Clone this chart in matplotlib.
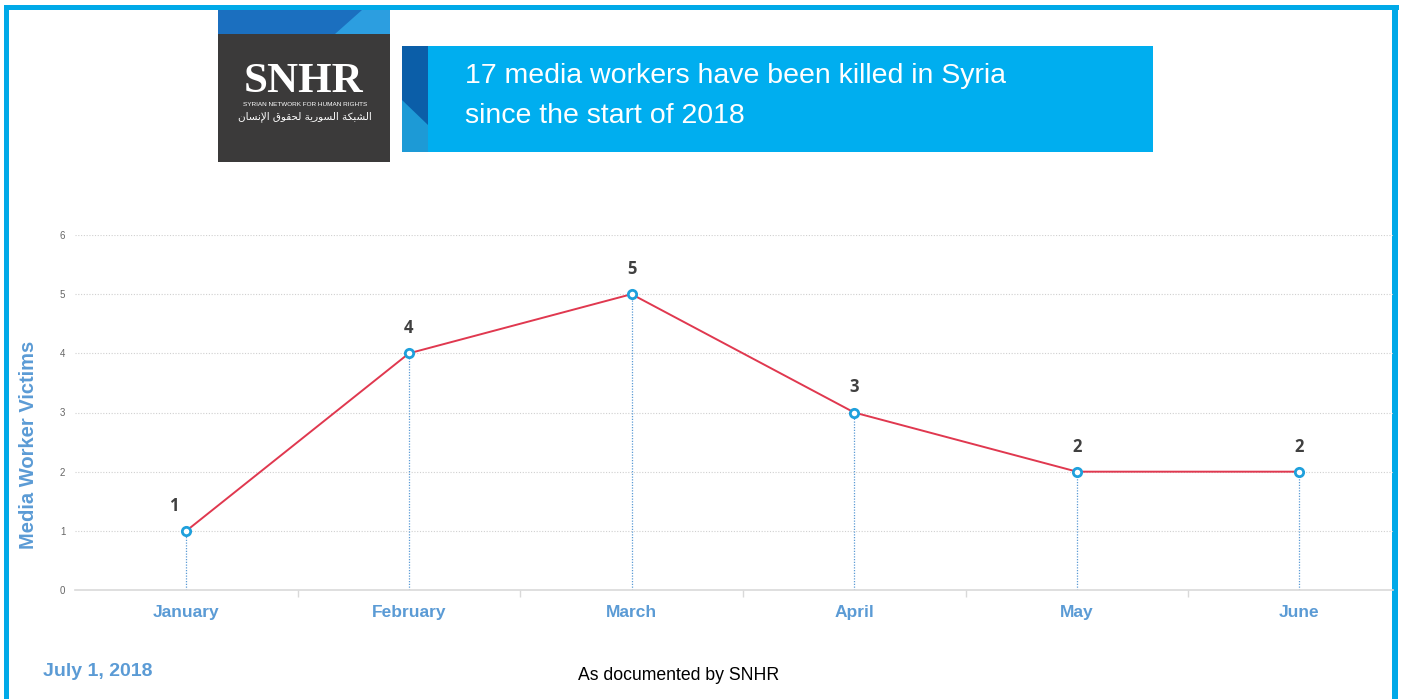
import matplotlib.pyplot as plt
from matplotlib.patches import Rectangle, Polygon

plt.rcParams['font.family'] = ['Liberation Sans', 'DejaVu Sans']

months = ['January', 'February', 'March', 'April', 'May', 'June']
victims = [1, 4, 5, 3, 2, 2]
y_ticks = [0, 1, 2, 3, 4, 5, 6]

title_lines = ['17 media workers have been killed in Syria', 'since the start of 2018']
logo_name = 'SNHR'
logo_sub = 'SYRIAN NETWORK FOR HUMAN RIGHTS'
# الشبكة السورية لحقوق الإنسان, written in shaped presentation forms (logical order)
logo_arabic_logical = ('\uFE8D\uFEDF\uFEB8\uFE92\uFEDC\uFE94 '
                       '\uFE8D\uFEDF\uFEB4\uFEEE\uFEAD\uFEF3\uFE94 '
                       '\uFEDF\uFEA4\uFED8\uFEEE\uFED5 '
                       '\uFE8D\uFEF9\uFEE7\uFEB4\uFE8E\uFEE5')
logo_arabic = logo_arabic_logical[::-1]
date_text = 'July 1, 2018'
source_text = 'As documented by SNHR'

BLUE = '#00a9e8'
LABEL_BLUE = '#5b9bd5'
RED = '#e0384f'
MARK = '#1fa0dc'

W, H = 1401, 699
fig = plt.figure(figsize=(W / 100, H / 100), dpi=100)

# background layer in pixel coordinates for frame, logo and banner
bg = fig.add_axes([0, 0, 1, 1])
bg.set_xlim(0, W)
bg.set_ylim(H, 0)
bg.axis('off')

# outer frame (top, left, right)
bg.add_patch(Rectangle((4, 5), 1395, 5, color=BLUE, lw=0))
bg.add_patch(Rectangle((4, 5), 5, 700, color=BLUE, lw=0))
bg.add_patch(Rectangle((1392, 5), 6, 700, color=BLUE, lw=0))

# logo block
bg.add_patch(Rectangle((218, 10), 172, 152, color='#3b3a3a', lw=0))
bg.add_patch(Rectangle((218, 10), 172, 24, color='#1b6fbf', lw=0))
bg.add_patch(Polygon([(335, 34), (362, 10), (390, 10), (390, 34)], closed=True,
                     color='#2c9ee0', lw=0))
bg.text(304, 82, logo_name, color='white', fontsize=31, family='Liberation Serif',
        fontweight='bold', ha='center', va='center')
bg.text(305, 104, logo_sub, color='white', fontsize=4.6, ha='center', va='center')
bg.text(305, 117, logo_arabic, color='white', fontsize=7.5, family='DejaVu Sans',
        ha='center', va='center')

# title banner
bg.add_patch(Rectangle((402, 46), 751, 106, color='#00aeef', lw=0))
bg.add_patch(Rectangle((402, 46), 26, 106, color='#0b5ea8', lw=0))
bg.add_patch(Polygon([(402, 100), (428, 125), (428, 152), (402, 152)], closed=True,
                     color='#1d9ad6', lw=0))
bg.text(465, 76, title_lines[0], color='white', fontsize=20.5, ha='left', va='center')
bg.text(465, 116, title_lines[1], color='white', fontsize=20.5, ha='left', va='center')

# footer
bg.text(43, 672, date_text, color=LABEL_BLUE, fontsize=14, fontweight='bold',
        ha='left', va='center')
bg.text(679, 676, source_text, color='black', fontsize=12.7, ha='center', va='center')

# chart
ax = fig.add_axes([75 / W, 109 / H, 1318 / W, 355 / H])
ax.set_facecolor('none')
x = list(range(len(months)))
ax.set_xlim(-0.5, 5.42)
ax.set_ylim(0, 6)

for yv in y_ticks[1:]:
    ax.axhline(yv, color='#d0d0d0', lw=0.8, ls=(0, (1, 1.5)), zorder=1)

ax.vlines(x, 0, victims, colors=LABEL_BLUE, lw=0.9, linestyles=(0, (1, 1.2)), zorder=2)
ax.plot(x, victims, color=RED, lw=1.4, zorder=3)
ax.plot(x, victims, ls='none', marker='o', ms=6, mfc='white', mec=MARK, mew=2, zorder=4)

for xi, v in zip(x, victims):
    ax.annotate(str(v), (xi, v), xytext=(-9 if xi == 0 else 0, 18),
                textcoords='offset points', ha='center', va='center',
                fontsize=12, fontweight='bold', color='#404040',
                family=['Open Sans', 'DejaVu Sans'])

for side in ['top', 'right', 'left']:
    ax.spines[side].set_visible(False)
ax.spines['bottom'].set_color('#d9d9d9')
ax.spines['bottom'].set_linewidth(1.2)

ax.set_yticks(y_ticks)
ax.set_yticklabels([str(v) for v in y_ticks])
ax.tick_params(axis='y', length=0, labelsize=7, labelcolor='#666666', pad=7)

ax.set_xticks(x)
ax.set_xticklabels(months)
ax.set_xticks([i + 0.5 for i in range(len(months) - 1)], minor=True)
ax.tick_params(axis='x', which='major', length=0, pad=11, labelsize=12.5,
               labelcolor=LABEL_BLUE)
ax.tick_params(axis='x', which='minor', length=5, color='#d9d9d9', width=1)
for lbl in ax.get_xticklabels():
    lbl.set_fontweight('bold')

ax.set_ylabel('Media Worker Victims', color=LABEL_BLUE, fontsize=14.5,
              fontweight='bold')
ax.yaxis.set_label_coords(-0.028, 0.41)

fig.savefig('out.png', dpi=100)
